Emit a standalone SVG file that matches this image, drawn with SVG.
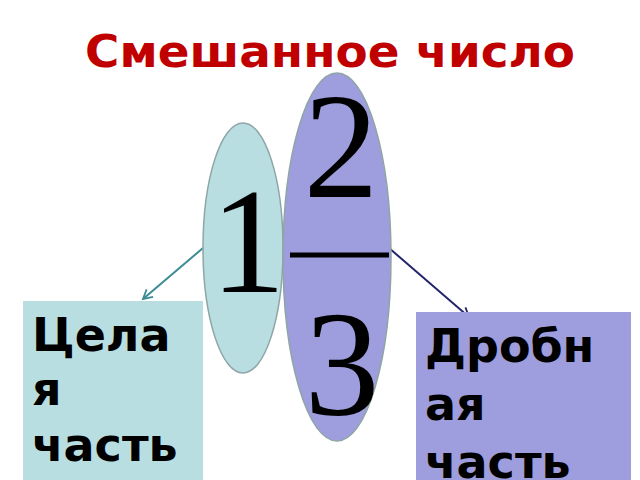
<svg xmlns="http://www.w3.org/2000/svg" width="640" height="480" viewBox="0 0 640 480">
<style>
.title{font-family:"DejaVu Sans",sans-serif;font-weight:bold;font-size:45px;fill:#C00000}
.lbl{font-family:"DejaVu Sans",sans-serif;font-weight:bold;font-size:46px;fill:#000}
.num{font-family:"Liberation Serif","Times New Roman",serif;font-size:150px;fill:#000;text-anchor:middle}
.ell{stroke:#8FA5A5;stroke-width:1.5}
</style>
<defs>
<marker id="arrT" markerWidth="12" markerHeight="12" refX="10" refY="6" orient="auto" markerUnits="userSpaceOnUse">
<path d="M1,1 L10,6 L1,11" fill="none" stroke="#3C8C94" stroke-width="1.8"/>
</marker>
<marker id="arrN" markerWidth="12" markerHeight="12" refX="10" refY="6" orient="auto" markerUnits="userSpaceOnUse">
<path d="M1,1 L10,6 L1,11" fill="none" stroke="#24246A" stroke-width="1.8"/>
</marker>
</defs>
<rect width="640" height="480" fill="#FFFFFF"/>
<text class="title" x="85" y="67" textLength="490" lengthAdjust="spacingAndGlyphs">Смешанное число</text>
<g id="connectors">
<line x1="203" y1="248" x2="143" y2="299" stroke="#3C8C94" stroke-width="2" marker-end="url(#arrT)"/>
<line x1="389" y1="248" x2="469" y2="317" stroke="#24246A" stroke-width="2" marker-end="url(#arrN)"/>
</g>
<g id="whole-box">
<rect x="23" y="301" width="180" height="185" fill="#B8DEE2"/>
<text class="lbl" x="32" y="351">Цела</text>
<text class="lbl" x="32" y="405">я</text>
<text class="lbl" x="32" y="461">часть</text>
</g>
<g id="fraction-box">
<rect x="416" y="312" width="215" height="175" fill="#9E9DDD"/>
<text class="lbl" x="425" y="362">Дробн</text>
<text class="lbl" x="425" y="420">ая</text>
<text class="lbl" x="425" y="478">часть</text>
</g>
<g id="whole-ellipse">
<ellipse class="ell" cx="243" cy="248" rx="40" ry="125" fill="#B8DEE2"/>
<text class="num" x="248" y="292">1</text>
</g>
<g id="fraction-ellipse">
<ellipse class="ell" cx="337" cy="257" rx="54" ry="184" fill="#9E9DDD"/>
<text class="num" x="341" y="197">2</text>
<line x1="290" y1="255" x2="389" y2="255" stroke="#000" stroke-width="5"/>
<text class="num" x="342" y="415">3</text>
</g>
</svg>
